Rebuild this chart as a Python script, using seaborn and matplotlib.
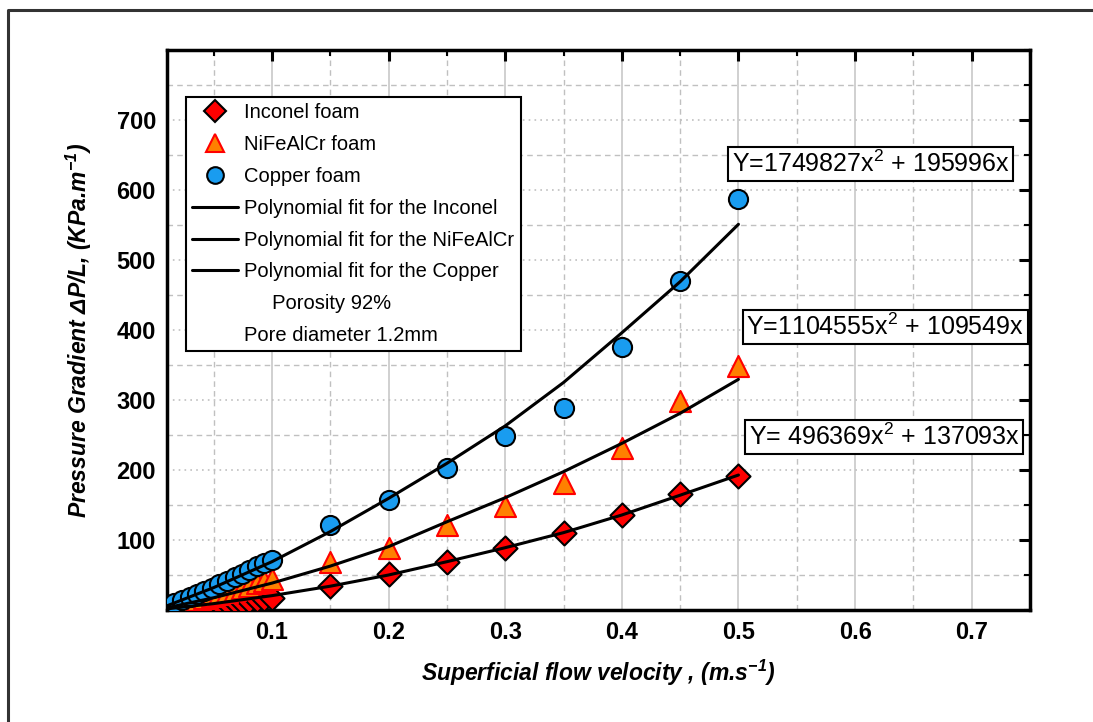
import numpy as np
import pandas as pd
import matplotlib
matplotlib.use("Agg")
import matplotlib.pyplot as plt
from matplotlib.lines import Line2D
from matplotlib.ticker import MultipleLocator, FixedLocator
import seaborn as sns

# ---------------- data ----------------
velocity = [0.01, 0.0164, 0.0229, 0.0293, 0.0357, 0.0421, 0.0486, 0.055, 0.0614,
            0.0679, 0.0743, 0.0807, 0.0871, 0.0936, 0.1,
            0.15, 0.2, 0.25, 0.3, 0.35, 0.4, 0.45, 0.5]
inconel = [1.5, 2.5, 3.5, 4.5, 5.5, 6.5, 7.5, 8.5, 9.5, 11, 12, 13, 14, 16, 17,
           34, 51, 69, 89, 110, 136, 166, 192]
nifealcr = [3, 6, 9, 12, 14, 17, 20, 23, 26, 29, 32, 35, 38, 41, 44,
            69, 88, 122, 149, 182, 231, 298, 349]
copper = [5, 10, 15, 19, 23, 27, 32, 37, 42, 47, 52, 57, 63, 67, 71,
          121, 157, 203, 248, 289, 376, 470, 587]

fit_velocity = [0.01, 0.05, 0.1, 0.15, 0.2, 0.25, 0.3, 0.35, 0.4, 0.45, 0.5]
fit_inconel = [1.6, 9.1, 20.5, 34, 50, 69, 89, 110.5, 135.7, 164, 192.8]
fit_nifealcr = [3.2, 17.5, 38.4, 62.7, 90.5, 126, 160.4, 197.6, 238, 281, 329.5]
fit_copper = [6, 32, 69, 112, 159.5, 209.5, 263, 325, 396, 469, 551]

series_labels = ["Inconel foam", "NiFeAlCr foam", "Copper foam"]
fit_labels = ["Polynomial fit for the Inconel", "Polynomial fit for the NiFeAlCr",
              "Polynomial fit for the Copper"]
note_labels = ["Porosity 92%", "Pore diameter 1.2mm"]
equations = [r"Y=1749827x$^2$ + 195996x", r"Y=1104555x$^2$ + 109549x",
             r"Y= 496369x$^2$ + 137093x"]
x_ticks = [0.1, 0.2, 0.3, 0.4, 0.5, 0.6, 0.7]
y_ticks = [100, 200, 300, 400, 500, 600, 700]

# ---------------- style ----------------
sns.set_theme(style="white")
plt.rcParams["font.family"] = ["Liberation Sans", "DejaVu Sans"]
plt.rcParams["mathtext.fontset"] = "custom"
plt.rcParams["mathtext.rm"] = "Liberation Sans"
plt.rcParams["mathtext.it"] = "Liberation Sans:italic"
plt.rcParams["mathtext.bf"] = "Liberation Sans:bold"
plt.rcParams["mathtext.default"] = "regular"
for key in ["text.color", "axes.labelcolor", "xtick.color", "ytick.color",
            "legend.labelcolor"]:
    plt.rcParams[key] = "black"

fig = plt.figure(figsize=(10.93, 7.22), dpi=100)
ax = fig.add_axes([167/1093, 1-610/722, (1030-167)/1093, (610-50)/722])

pts = pd.DataFrame({"v": velocity * 3,
                    "dp": inconel + nifealcr + copper,
                    "s": [series_labels[0]]*len(velocity) + [series_labels[1]]*len(velocity)
                         + [series_labels[2]]*len(velocity)})
fits = pd.DataFrame({"v": fit_velocity * 3,
                     "dp": fit_inconel + fit_nifealcr + fit_copper,
                     "s": [fit_labels[0]]*len(fit_velocity) + [fit_labels[1]]*len(fit_velocity)
                          + [fit_labels[2]]*len(fit_velocity)})

styles = {
    series_labels[0]: dict(marker="D", s=150, color="#FF0000", edgecolor="black"),
    series_labels[1]: dict(marker="^", s=230, color="#FF8000", edgecolor="#FF0000"),
    series_labels[2]: dict(marker="o", s=190, color="#199CF0", edgecolor="black"),
}
for lab in series_labels:
    st = styles[lab]
    sns.scatterplot(data=pts[pts.s == lab], x="v", y="dp", ax=ax, marker=st["marker"],
                    s=st["s"], color=st["color"], edgecolor=st["edgecolor"],
                    linewidth=1.5, legend=False, zorder=3)
for lab in fit_labels:
    sns.lineplot(data=fits[fits.s == lab], x="v", y="dp", ax=ax, color="black",
                 linewidth=2.2, legend=False, zorder=4)

ax.set_xlim(0.01, 0.75)
ax.set_ylim(0, 800)

ax.xaxis.set_major_locator(FixedLocator(x_ticks))
ax.set_xticklabels([f"{t:.1f}" for t in x_ticks])
ax.xaxis.set_minor_locator(MultipleLocator(0.05))
ax.yaxis.set_major_locator(FixedLocator(y_ticks))
ax.set_yticklabels([str(t) for t in y_ticks])
ax.yaxis.set_minor_locator(MultipleLocator(50))

ax.tick_params(which="major", direction="in", length=8, width=2.2, top=True, right=True,
               labelsize=17, colors="black")
ax.tick_params(which="minor", direction="in", length=4.5, width=1.5, top=True, right=True,
               colors="black")
ax.tick_params(axis="y", which="major", pad=8)
ax.tick_params(axis="x", which="major", pad=8)
for lbl in ax.get_xticklabels() + ax.get_yticklabels():
    lbl.set_fontweight("bold")

ax.grid(False)
ax.grid(True, axis="x", which="major", color="#c8c8c8", linestyle="-", linewidth=1.2)
ax.grid(True, axis="x", which="minor", color="#c0c0c0", linestyle=(0, (4, 3)), linewidth=1.0)
ax.grid(True, axis="y", which="major", color="#c0c0c0", linestyle=(0, (1, 2.5)), linewidth=1.2)
ax.grid(True, axis="y", which="minor", color="#c0c0c0", linestyle=(0, (4, 3)), linewidth=1.0)
ax.set_axisbelow(True)

for sp in ax.spines.values():
    sp.set_linewidth(2.5)
    sp.set_color("black")

ax.set_xlabel(r"Superficial flow velocity , (m.s$^{-1}$)", fontsize=16.5, fontweight="bold",
              fontstyle="italic", labelpad=10, color="black")
ax.set_ylabel(r"Pressure Gradient $\Delta$P/L, (KPa.m$^{-1}$)", fontsize=16.5,
              fontweight="bold", fontstyle="italic", labelpad=16, color="black")

# equation boxes
eq_pos = [(0.613, 637), (0.626, 404), (0.625, 247)]
for (xp, yp), eq in zip(eq_pos, equations):
    ax.text(xp, yp, eq, fontsize=18, ha="center", va="center", zorder=6, color="black",
            bbox=dict(boxstyle="square,pad=0.15", facecolor="white", edgecolor="black",
                      linewidth=1.5))

# legend
handles = [
    Line2D([], [], marker="D", linestyle="none", markersize=11, markerfacecolor="#FF0000",
           markeredgecolor="black", markeredgewidth=1.5),
    Line2D([], [], marker="^", linestyle="none", markersize=13, markerfacecolor="#FF8000",
           markeredgecolor="#FF0000", markeredgewidth=1.5),
    Line2D([], [], marker="o", linestyle="none", markersize=12, markerfacecolor="#199CF0",
           markeredgecolor="black", markeredgewidth=1.5),
    Line2D([], [], color="black", linewidth=2.2),
    Line2D([], [], color="black", linewidth=2.2),
    Line2D([], [], color="black", linewidth=2.2),
    Line2D([], [], linestyle="none"),
    Line2D([], [], linestyle="none"),
]
labels = series_labels + fit_labels + ["     " + note_labels[0], note_labels[1]]
leg = ax.legend(handles, labels, loc="upper left", bbox_to_anchor=(19/863, 1-47/560),
                fontsize=14.5, frameon=True, fancybox=False, edgecolor="black",
                framealpha=1, borderpad=0.3, labelspacing=0.64, handlelength=2.3,
                handletextpad=0.3, borderaxespad=0)
leg.get_frame().set_linewidth(1.5)
leg.set_zorder(7)

# outer frame (left and top edges)
fig.add_artist(Line2D([8/1093, 8/1093, 1.0], [0.0, 1-10/722, 1-10/722],
                      transform=fig.transFigure, color="#333333", linewidth=2.2))

fig.savefig("out.png", dpi=100)
